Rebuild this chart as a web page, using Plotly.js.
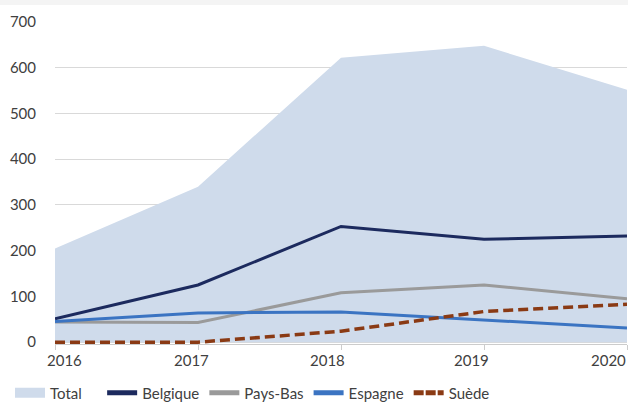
<!DOCTYPE html>
<html>
<head>
<meta charset="utf-8">
<script src="https://cdn.plot.ly/plotly-3.0.1.min.js"></script>
<style>html,body{margin:0;padding:0;background:#fff;}#chart{width:628px;height:403px;}</style>
</head>
<body>
<div id="chart"></div>
<script>
const years = [2016, 2017, 2018, 2019, 2020];
const total = [205, 340, 622, 648, 552];
const belgique = [51, 125, 253, 225, 232];
const paysBas = [44, 43, 108, 125, 95];
const espagne = [45, 64, 66, 48, 31];
const suede = [0, 0, 24, 67, 83];
const yTicks = [0, 100, 200, 300, 400, 500, 600, 700];

const C = {
  total: '#cfdbeb', belgique: '#1c2a5e', paysBas: '#9a9a9a',
  espagne: '#3b74c2', suede: '#8a3a14', text: '#404040', grid: '#d9d9d9'
};
const FONT = 'Lato, "Open Sans", sans-serif';

const traces = [
  {x: years, y: total, type: 'scatter', mode: 'lines', fill: 'tozeroy',
   fillcolor: C.total, line: {width: 0, color: C.total}, showlegend: false, hoverinfo: 'skip'},
  {x: years, y: belgique, type: 'scatter', mode: 'lines', line: {color: C.belgique, width: 3}, showlegend: false},
  {x: years, y: paysBas, type: 'scatter', mode: 'lines', line: {color: C.paysBas, width: 3}, showlegend: false},
  {x: years, y: espagne, type: 'scatter', mode: 'lines', line: {color: C.espagne, width: 3}, showlegend: false},
  {x: years, y: suede, type: 'scatter', mode: 'lines', line: {color: C.suede, width: 3.5, dash: '10px,5px'}, showlegend: false},
  // legend entries
  {x: [null], y: [null], type: 'scatter', mode: 'lines', name: 'Total\u00a0\u00a0\u00a0\u00a0', line: {color: C.total, width: 16}},
  {x: [null], y: [null], type: 'scatter', mode: 'lines', name: 'Belgique', line: {color: C.belgique, width: 5}},
  {x: [null], y: [null], type: 'scatter', mode: 'lines', name: 'Pays-Bas', line: {color: C.paysBas, width: 5}},
  {x: [null], y: [null], type: 'scatter', mode: 'lines', name: 'Espagne', line: {color: C.espagne, width: 5}},
  {x: [null], y: [null], type: 'scatter', mode: 'lines', name: 'Suède', line: {color: C.suede, width: 5, dash: '10px,2px'}}
];

const labelShift = [9, -7, -14, -13, -19];
const annotations = years.map((yr, i) => ({
  x: yr, xref: 'x', y: 0, yref: 'paper', yanchor: 'top', xanchor: 'center',
  yshift: -5, xshift: labelShift[i], text: String(yr), showarrow: false,
  font: {family: FONT, size: 15, color: C.text}
}));

const M = {l: 55, r: 1, t: 22, b: 59};
const plotW = 628 - M.l - M.r, plotH = 403 - M.t - M.b;
const px2x = px => (px - M.l) / plotW;
const py2y = py => (403 - M.b - py) / plotH;

const layout = {
  width: 628, height: 403,
  margin: Object.assign({autoexpand: false}, M),
  paper_bgcolor: '#fff', plot_bgcolor: '#fff',
  font: {family: FONT, size: 15, color: C.text},
  showlegend: true,
  legend: {orientation: 'h', xref: 'container', yref: 'container', x: 10 / 628, xanchor: 'left',
           y: 10 / 403, yanchor: 'middle',
           font: {family: FONT, size: 15, color: C.text}, itemwidth: 30, tracegroupgap: 0},
  xaxis: {range: [2016, 2020], type: 'linear', tickvals: years, showticklabels: false,
          ticks: 'outside', ticklen: 5, tickcolor: '#cccccc', showgrid: false,
          showline: true, linecolor: '#cccccc', linewidth: 1, zeroline: false, fixedrange: true},
  yaxis: {range: [-4, 700], tickvals: yTicks, ticktext: yTicks.map(String),
          ticks: 'outside', ticklen: 15, tickcolor: 'rgba(0,0,0,0)',
          showgrid: true, gridcolor: C.grid, gridwidth: 1, zeroline: false, showline: false,
          tickfont: {family: FONT, size: 15, color: C.text}, fixedrange: true},
  annotations: annotations,
  shapes: [
    {type: 'rect', xref: 'paper', yref: 'paper', x0: -0.1, x1: 1.01, y0: py2y(5), y1: py2y(-2), line: {width: 0}, fillcolor: '#f4f4f4', layer: 'below'},
    {type: 'rect', xref: 'paper', yref: 'paper', x0: px2x(15), x1: px2x(45), y0: py2y(401), y1: py2y(385), line: {width: 0}, fillcolor: C.total, layer: 'above'}
  ],
  hovermode: false
};

Plotly.newPlot('chart', traces, layout, {displayModeBar: false, staticPlot: true});
</script>
</body>
</html>
